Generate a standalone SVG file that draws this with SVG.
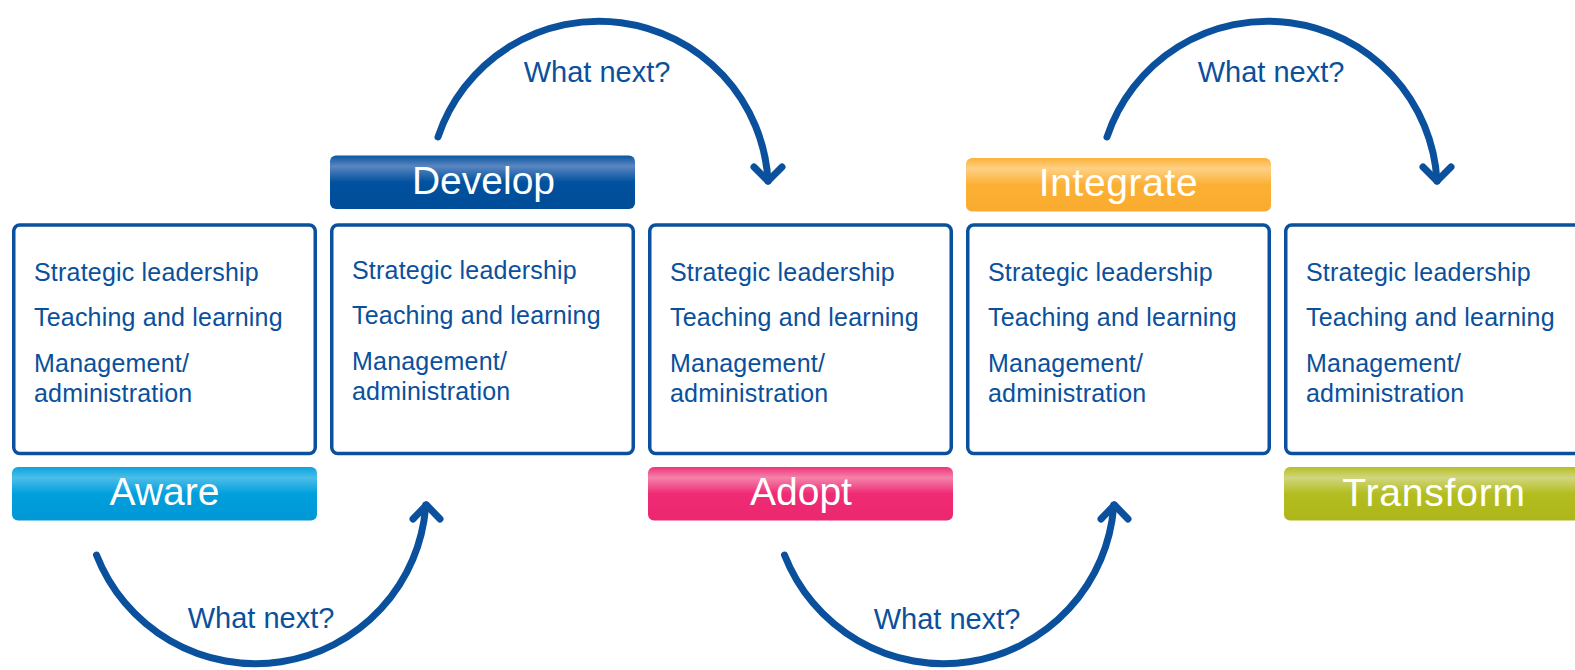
<svg xmlns="http://www.w3.org/2000/svg" width="1575" height="670" viewBox="0 0 1575 670">
<style>
.box{fill:#fff;stroke:#0a509c;stroke-width:3.5}
.item{font-family:"Liberation Sans",Arial,sans-serif;font-size:25px;letter-spacing:0.2px;fill:#0a509c}
.lbl{font-family:"Liberation Sans",Arial,sans-serif;font-size:39px;fill:#fff;text-anchor:middle}
.wn{font-family:"Liberation Sans",Arial,sans-serif;font-size:29px;fill:#0a509c;text-anchor:middle}
.arc{fill:none;stroke:#0a509c;stroke-width:7;stroke-linecap:round;stroke-linejoin:round}
</style>
<defs>
<linearGradient id="gAware" x1="0" y1="0" x2="0" y2="1">
<stop offset="0" stop-color="#0aa3de"/><stop offset="0.2" stop-color="#4cbde9"/><stop offset="0.5" stop-color="#00a0dc"/><stop offset="1" stop-color="#0097d5"/>
</linearGradient>
<linearGradient id="gDevelop" x1="0" y1="0" x2="0" y2="1">
<stop offset="0" stop-color="#0a56a2"/><stop offset="0.2" stop-color="#5a86c0"/><stop offset="0.5" stop-color="#00519e"/><stop offset="1" stop-color="#004d99"/>
</linearGradient>
<linearGradient id="gAdopt" x1="0" y1="0" x2="0" y2="1">
<stop offset="0" stop-color="#ee3379"/><stop offset="0.2" stop-color="#f483ab"/><stop offset="0.5" stop-color="#ee2b74"/><stop offset="1" stop-color="#eb276f"/>
</linearGradient>
<linearGradient id="gIntegrate" x1="0" y1="0" x2="0" y2="1">
<stop offset="0" stop-color="#fbb23a"/><stop offset="0.2" stop-color="#fdd085"/><stop offset="0.5" stop-color="#fbb034"/><stop offset="1" stop-color="#faab2f"/>
</linearGradient>
<linearGradient id="gTransform" x1="0" y1="0" x2="0" y2="1">
<stop offset="0" stop-color="#b6bf25"/><stop offset="0.2" stop-color="#d0d67e"/><stop offset="0.5" stop-color="#b3bd1f"/><stop offset="1" stop-color="#adb71b"/>
</linearGradient>
</defs>
<rect width="1575" height="670" fill="#fff"/>

<g id="connectors">
  <path class="arc" d="M 96.5 555 A 170.7 170.7 0 0 0 425.8 505"/>
  <polyline class="arc" points="413,519 426.5,505 440,519"/>
  <path class="arc" d="M 438 137 A 169.5 169.5 0 0 1 768 181"/>
  <polyline class="arc" points="754,167 768,181 782,167"/>
  <path class="arc" d="M 784.5 555 A 170.7 170.7 0 0 0 1113.8 505"/>
  <polyline class="arc" points="1101,519 1114.5,505 1128,519"/>
  <path class="arc" d="M 1107 137 A 169.5 169.5 0 0 1 1437 181"/>
  <polyline class="arc" points="1423,167 1437,181 1451,167"/>
  <text class="wn" x="261" y="628">What next?</text>
  <text class="wn" x="597" y="82">What next?</text>
  <text class="wn" x="947" y="629">What next?</text>
  <text class="wn" x="1271" y="82">What next?</text>
</g>

<g id="aware">
  <rect class="box" x="13.75" y="225" width="301.5" height="228.5" rx="6"/>
  <text class="item" x="34" y="281">Strategic leadership</text>
  <text class="item" x="34" y="326">Teaching and learning</text>
  <text class="item" x="34" y="372">Management/</text>
  <text class="item" x="34" y="402">administration</text>
  <rect x="12" y="467" width="305" height="53.5" rx="6" fill="url(#gAware)"/>
  <text class="lbl" x="164.5" y="505">Aware</text>
</g>

<g id="develop">
  <rect class="box" x="331.75" y="225" width="301.5" height="228.5" rx="6"/>
  <text class="item" x="352" y="279">Strategic leadership</text>
  <text class="item" x="352" y="324">Teaching and learning</text>
  <text class="item" x="352" y="370">Management/</text>
  <text class="item" x="352" y="400">administration</text>
  <rect x="330" y="155.5" width="305" height="53.5" rx="6" fill="url(#gDevelop)"/>
  <text class="lbl" x="483.5" y="193.5">Develop</text>
</g>

<g id="adopt">
  <rect class="box" x="649.75" y="225" width="301.5" height="228.5" rx="6"/>
  <text class="item" x="670" y="281">Strategic leadership</text>
  <text class="item" x="670" y="326">Teaching and learning</text>
  <text class="item" x="670" y="372">Management/</text>
  <text class="item" x="670" y="402">administration</text>
  <rect x="648" y="467" width="305" height="53.5" rx="6" fill="url(#gAdopt)"/>
  <text class="lbl" x="801" y="505">Adopt</text>
</g>

<g id="integrate">
  <rect class="box" x="967.75" y="225" width="301.5" height="228.5" rx="6"/>
  <text class="item" x="988" y="281">Strategic leadership</text>
  <text class="item" x="988" y="326">Teaching and learning</text>
  <text class="item" x="988" y="372">Management/</text>
  <text class="item" x="988" y="402">administration</text>
  <rect x="966" y="158" width="305" height="53.5" rx="6" fill="url(#gIntegrate)"/>
  <text class="lbl" x="1118.5" y="196" style="letter-spacing:0.6px">Integrate</text>
</g>

<g id="transform">
  <rect class="box" x="1285.75" y="225" width="301.5" height="228.5" rx="6"/>
  <text class="item" x="1306" y="281">Strategic leadership</text>
  <text class="item" x="1306" y="326">Teaching and learning</text>
  <text class="item" x="1306" y="372">Management/</text>
  <text class="item" x="1306" y="402">administration</text>
  <rect x="1284" y="467" width="305" height="53.5" rx="6" fill="url(#gTransform)"/>
  <text class="lbl" x="1434" y="506" style="letter-spacing:0.8px">Transform</text>
</g>
</svg>
